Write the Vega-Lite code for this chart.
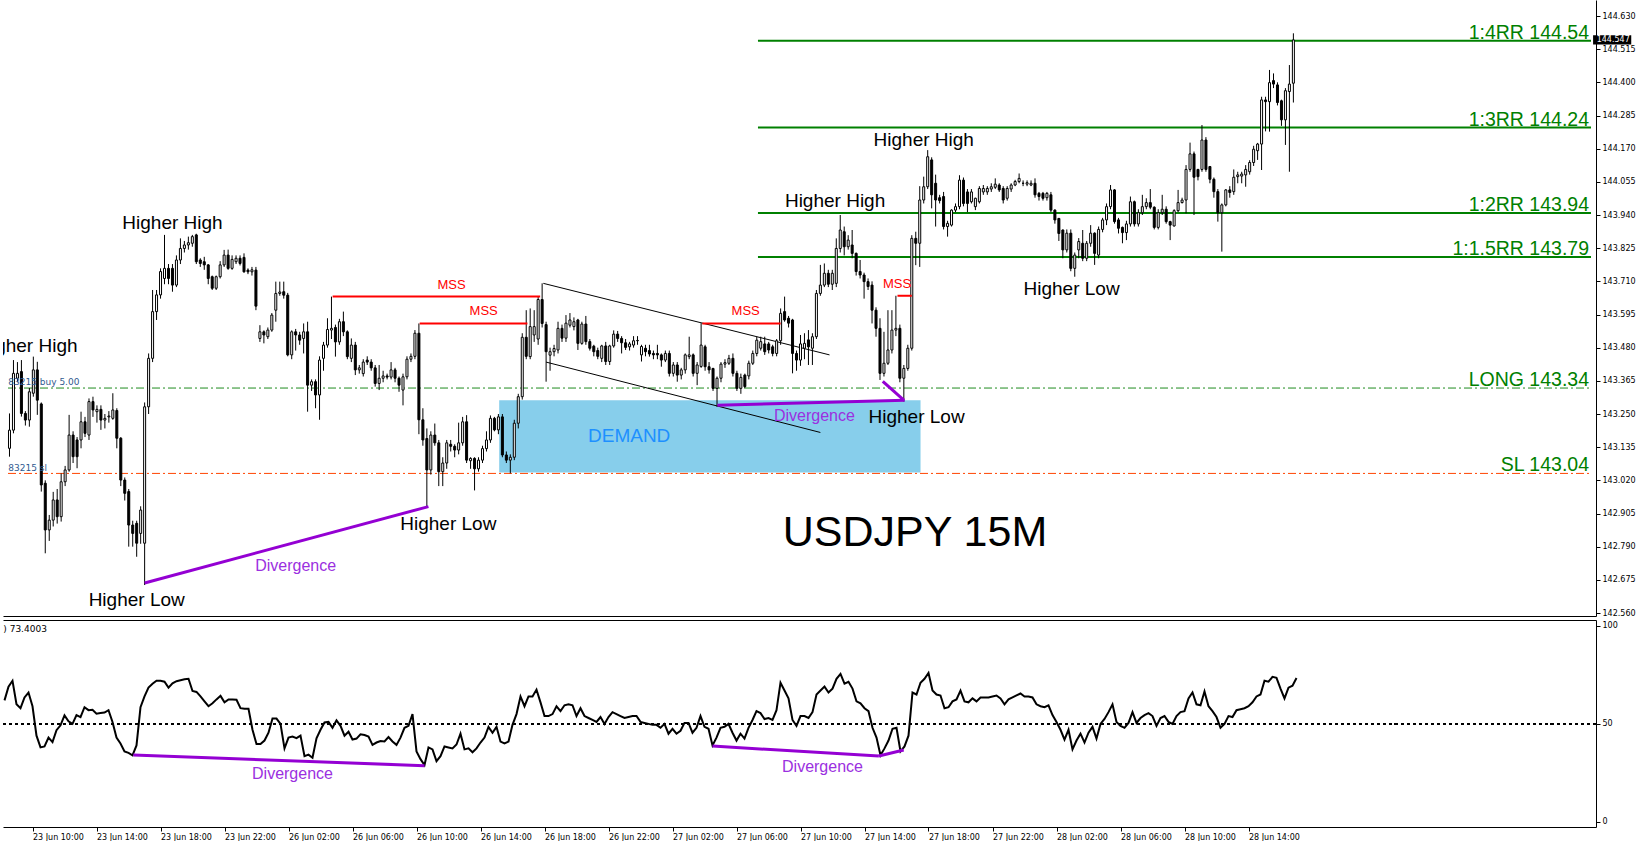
{
"$schema": "https://vega.github.io/schema/vega-lite/v6.json",
"padding": 0,
"background": "white",
"spacing": 2,
"config": {"view": {"stroke": null}, "axis": {"labelFont": "DejaVu Sans", "labelFontSize": 8, "labelColor": "black", "domainColor": "black", "tickColor": "black", "grid": false, "title": null}},
"datasets": {
"bars": [
{"i":-7,"o":143.131,"h":143.252,"l":143.102,"c":143.194,"r":62},
{"i":-6,"o":143.194,"h":143.437,"l":143.183,"c":143.391,"r":69},
{"i":-5,"o":143.374,"h":143.43,"l":143.36,"c":143.391,"r":72},
{"i":-4,"o":143.397,"h":143.437,"l":143.241,"c":143.252,"r":60},
{"i":-3,"o":143.252,"h":143.26,"l":143.21,"c":143.229,"r":58},
{"i":-2,"o":143.229,"h":143.34,"l":143.206,"c":143.327,"r":63.5},
{"i":-1,"o":143.322,"h":143.449,"l":143.31,"c":143.403,"r":66},
{"i":0,"o":143.403,"h":143.431,"l":143.247,"c":143.298,"r":59},
{"i":1,"o":143.285,"h":143.29,"l":142.981,"c":143.004,"r":44},
{"i":2,"o":143.01,"h":143.02,"l":142.767,"c":142.848,"r":38},
{"i":3,"o":142.848,"h":142.9,"l":142.81,"c":142.882,"r":38.5},
{"i":4,"o":142.882,"h":142.98,"l":142.86,"c":142.952,"r":43},
{"i":5,"o":142.952,"h":142.99,"l":142.87,"c":142.894,"r":40.7},
{"i":6,"o":142.894,"h":143.044,"l":142.877,"c":143.015,"r":46.8},
{"i":7,"o":143.015,"h":143.07,"l":143.0,"c":143.056,"r":49.3},
{"i":8,"o":143.056,"h":143.247,"l":143.05,"c":143.177,"r":54.3},
{"i":9,"o":143.177,"h":143.19,"l":143.08,"c":143.102,"r":51.3},
{"i":10,"o":143.16,"h":143.17,"l":143.062,"c":143.102,"r":50},
{"i":11,"o":143.16,"h":143.258,"l":143.131,"c":143.223,"r":54.5},
{"i":12,"o":143.223,"h":143.24,"l":143.17,"c":143.183,"r":53.5},
{"i":13,"o":143.177,"h":143.304,"l":143.16,"c":143.293,"r":58.5},
{"i":14,"o":143.293,"h":143.31,"l":143.24,"c":143.264,"r":57},
{"i":15,"o":143.258,"h":143.28,"l":143.22,"c":143.266,"r":57.2},
{"i":16,"o":143.266,"h":143.28,"l":143.195,"c":143.229,"r":55.2},
{"i":17,"o":143.229,"h":143.25,"l":143.2,"c":143.235,"r":55.5},
{"i":18,"o":143.24,"h":143.26,"l":143.22,"c":143.243,"r":55.8},
{"i":19,"o":143.235,"h":143.322,"l":143.23,"c":143.264,"r":57},
{"i":20,"o":143.262,"h":143.27,"l":143.131,"c":143.166,"r":51},
{"i":21,"o":143.166,"h":143.17,"l":143.0,"c":143.021,"r":43},
{"i":22,"o":143.021,"h":143.03,"l":142.95,"c":142.975,"r":40},
{"i":23,"o":142.981,"h":142.99,"l":142.79,"c":142.865,"r":36},
{"i":24,"o":142.865,"h":142.88,"l":142.79,"c":142.836,"r":35.2},
{"i":25,"o":142.871,"h":142.88,"l":142.755,"c":142.802,"r":34},
{"i":26,"o":142.836,"h":142.93,"l":142.8,"c":142.917,"r":39},
{"i":27,"o":142.802,"h":143.29,"l":142.657,"c":143.275,"r":58.5},
{"i":28,"o":143.275,"h":143.46,"l":143.25,"c":143.443,"r":64},
{"i":29,"o":143.443,"h":143.68,"l":143.43,"c":143.605,"r":68.5},
{"i":30,"o":143.605,"h":143.68,"l":143.576,"c":143.663,"r":70.5},
{"i":31,"o":143.663,"h":143.755,"l":143.65,"c":143.744,"r":72},
{"i":32,"o":143.72,"h":143.871,"l":143.7,"c":143.755,"r":72},
{"i":33,"o":143.755,"h":143.77,"l":143.7,"c":143.72,"r":71.5},
{"i":34,"o":143.755,"h":143.77,"l":143.674,"c":143.697,"r":68.5},
{"i":35,"o":143.697,"h":143.8,"l":143.69,"c":143.784,"r":70.7},
{"i":36,"o":143.784,"h":143.859,"l":143.77,"c":143.824,"r":71.8},
{"i":37,"o":143.824,"h":143.85,"l":143.81,"c":143.836,"r":72.3},
{"i":38,"o":143.836,"h":143.865,"l":143.82,"c":143.844,"r":72.8},
{"i":39,"o":143.842,"h":143.871,"l":143.83,"c":143.865,"r":73},
{"i":40,"o":143.871,"h":143.875,"l":143.77,"c":143.778,"r":66.8},
{"i":41,"o":143.784,"h":143.79,"l":143.76,"c":143.772,"r":66.3},
{"i":42,"o":143.778,"h":143.795,"l":143.75,"c":143.767,"r":64},
{"i":43,"o":143.767,"h":143.77,"l":143.7,"c":143.72,"r":61.5},
{"i":44,"o":143.726,"h":143.73,"l":143.68,"c":143.686,"r":59},
{"i":45,"o":143.686,"h":143.73,"l":143.68,"c":143.726,"r":60.5},
{"i":46,"o":143.726,"h":143.78,"l":143.72,"c":143.767,"r":62.5},
{"i":47,"o":143.767,"h":143.819,"l":143.76,"c":143.801,"r":64.3},
{"i":48,"o":143.801,"h":143.82,"l":143.75,"c":143.755,"r":61},
{"i":49,"o":143.755,"h":143.8,"l":143.75,"c":143.786,"r":62.5},
{"i":50,"o":143.778,"h":143.8,"l":143.77,"c":143.79,"r":62.5},
{"i":51,"o":143.79,"h":143.8,"l":143.765,"c":143.772,"r":62.3},
{"i":52,"o":143.793,"h":143.807,"l":143.74,"c":143.743,"r":58},
{"i":53,"o":143.749,"h":143.755,"l":143.735,"c":143.743,"r":57.7},
{"i":54,"o":143.743,"h":143.76,"l":143.73,"c":143.75,"r":57.7},
{"i":55,"o":143.749,"h":143.76,"l":143.61,"c":143.624,"r":47},
{"i":56,"o":143.512,"h":143.558,"l":143.5,"c":143.535,"r":39.7},
{"i":57,"o":143.535,"h":143.54,"l":143.495,"c":143.524,"r":39.7},
{"i":58,"o":143.518,"h":143.55,"l":143.51,"c":143.541,"r":41.5},
{"i":59,"o":143.541,"h":143.6,"l":143.535,"c":143.593,"r":45.5},
{"i":60,"o":143.61,"h":143.709,"l":143.57,"c":143.668,"r":52.7},
{"i":61,"o":143.668,"h":143.709,"l":143.66,"c":143.673,"r":52.7},
{"i":62,"o":143.674,"h":143.709,"l":143.65,"c":143.662,"r":50},
{"i":63,"o":143.662,"h":143.67,"l":143.45,"c":143.455,"r":37.5},
{"i":64,"o":143.455,"h":143.54,"l":143.44,"c":143.535,"r":43},
{"i":65,"o":143.535,"h":143.545,"l":143.47,"c":143.524,"r":43.5},
{"i":66,"o":143.524,"h":143.535,"l":143.49,"c":143.506,"r":42.7},
{"i":67,"o":143.512,"h":143.564,"l":143.46,"c":143.535,"r":44},
{"i":68,"o":143.535,"h":143.57,"l":143.258,"c":143.35,"r":33.5},
{"i":69,"o":143.35,"h":143.37,"l":143.33,"c":143.362,"r":34.3},
{"i":70,"o":143.362,"h":143.37,"l":143.27,"c":143.316,"r":32.7},
{"i":71,"o":143.316,"h":143.45,"l":143.23,"c":143.437,"r":42.7},
{"i":72,"o":143.443,"h":143.5,"l":143.4,"c":143.489,"r":47},
{"i":73,"o":143.489,"h":143.582,"l":143.48,"c":143.543,"r":50.7},
{"i":74,"o":143.541,"h":143.657,"l":143.51,"c":143.547,"r":51},
{"i":75,"o":143.55,"h":143.56,"l":143.449,"c":143.5,"r":48},
{"i":76,"o":143.5,"h":143.58,"l":143.49,"c":143.57,"r":51.8},
{"i":77,"o":143.57,"h":143.605,"l":143.52,"c":143.535,"r":49},
{"i":78,"o":143.535,"h":143.54,"l":143.44,"c":143.449,"r":44},
{"i":79,"o":143.443,"h":143.512,"l":143.43,"c":143.489,"r":46},
{"i":80,"o":143.489,"h":143.5,"l":143.385,"c":143.403,"r":42},
{"i":81,"o":143.403,"h":143.42,"l":143.39,"c":143.41,"r":42.5},
{"i":82,"o":143.39,"h":143.44,"l":143.38,"c":143.43,"r":44.7},
{"i":83,"o":143.437,"h":143.45,"l":143.42,"c":143.43,"r":44.3},
{"i":84,"o":143.43,"h":143.44,"l":143.4,"c":143.41,"r":43.5},
{"i":85,"o":143.41,"h":143.42,"l":143.345,"c":143.356,"r":39.3},
{"i":86,"o":143.356,"h":143.42,"l":143.333,"c":143.374,"r":40.5},
{"i":87,"o":143.374,"h":143.4,"l":143.36,"c":143.382,"r":41.3},
{"i":88,"o":143.382,"h":143.39,"l":143.37,"c":143.378,"r":41},
{"i":89,"o":143.378,"h":143.43,"l":143.37,"c":143.403,"r":43.3},
{"i":90,"o":143.403,"h":143.41,"l":143.36,"c":143.374,"r":41},
{"i":91,"o":143.374,"h":143.38,"l":143.327,"c":143.35,"r":39.3},
{"i":92,"o":143.333,"h":143.39,"l":143.28,"c":143.379,"r":43},
{"i":93,"o":143.379,"h":143.45,"l":143.37,"c":143.44,"r":48},
{"i":94,"o":143.44,"h":143.46,"l":143.43,"c":143.45,"r":49},
{"i":95,"o":143.45,"h":143.541,"l":143.44,"c":143.53,"r":55},
{"i":96,"o":143.53,"h":143.564,"l":143.18,"c":143.23,"r":36},
{"i":97,"o":143.23,"h":143.27,"l":143.14,"c":143.16,"r":32},
{"i":98,"o":143.165,"h":143.2,"l":142.93,"c":143.056,"r":29},
{"i":99,"o":143.056,"h":143.19,"l":143.04,"c":143.177,"r":38},
{"i":100,"o":143.177,"h":143.217,"l":143.14,"c":143.15,"r":37},
{"i":101,"o":143.15,"h":143.16,"l":143.0,"c":143.05,"r":31},
{"i":102,"o":143.05,"h":143.1,"l":143.0,"c":143.08,"r":33.5},
{"i":103,"o":143.08,"h":143.16,"l":143.06,"c":143.15,"r":38.5},
{"i":104,"o":143.145,"h":143.16,"l":143.12,"c":143.138,"r":38},
{"i":105,"o":143.138,"h":143.145,"l":143.1,"c":143.125,"r":37.5},
{"i":106,"o":143.125,"h":143.22,"l":143.11,"c":143.15,"r":39.5},
{"i":107,"o":143.15,"h":143.24,"l":143.14,"c":143.223,"r":45},
{"i":108,"o":143.223,"h":143.246,"l":143.08,"c":143.09,"r":37},
{"i":109,"o":143.088,"h":143.1,"l":143.06,"c":143.096,"r":37.5},
{"i":110,"o":143.096,"h":143.1,"l":142.985,"c":143.06,"r":35.5},
{"i":111,"o":143.06,"h":143.1,"l":143.05,"c":143.09,"r":37.5},
{"i":112,"o":143.09,"h":143.14,"l":143.08,"c":143.13,"r":40.5},
{"i":113,"o":143.13,"h":143.19,"l":143.12,"c":143.16,"r":43},
{"i":114,"o":143.16,"h":143.245,"l":143.15,"c":143.235,"r":48.5},
{"i":115,"o":143.235,"h":143.24,"l":143.19,"c":143.195,"r":45.5},
{"i":116,"o":143.195,"h":143.25,"l":143.18,"c":143.24,"r":48.5},
{"i":117,"o":143.24,"h":143.25,"l":143.1,"c":143.108,"r":41},
{"i":118,"o":143.108,"h":143.12,"l":143.08,"c":143.09,"r":40},
{"i":119,"o":143.09,"h":143.11,"l":143.044,"c":143.1,"r":41},
{"i":120,"o":143.1,"h":143.23,"l":143.09,"c":143.218,"r":49.5},
{"i":121,"o":143.218,"h":143.32,"l":143.2,"c":143.31,"r":55},
{"i":122,"o":143.31,"h":143.53,"l":143.3,"c":143.516,"r":64},
{"i":123,"o":143.516,"h":143.61,"l":143.44,"c":143.45,"r":59},
{"i":124,"o":143.449,"h":143.616,"l":143.44,"c":143.553,"r":64},
{"i":125,"o":143.524,"h":143.61,"l":143.5,"c":143.553,"r":64},
{"i":126,"o":143.51,"h":143.657,"l":143.49,"c":143.647,"r":67.5},
{"i":127,"o":143.647,"h":143.703,"l":143.55,"c":143.564,"r":61},
{"i":128,"o":143.56,"h":143.57,"l":143.362,"c":143.466,"r":54},
{"i":129,"o":143.454,"h":143.48,"l":143.4,"c":143.466,"r":54},
{"i":130,"o":143.466,"h":143.49,"l":143.45,"c":143.477,"r":55},
{"i":131,"o":143.472,"h":143.57,"l":143.46,"c":143.547,"r":59},
{"i":132,"o":143.547,"h":143.56,"l":143.5,"c":143.513,"r":56.5},
{"i":133,"o":143.513,"h":143.593,"l":143.5,"c":143.565,"r":59.5},
{"i":134,"o":143.558,"h":143.6,"l":143.55,"c":143.576,"r":60},
{"i":135,"o":143.553,"h":143.585,"l":143.54,"c":143.57,"r":59.5},
{"i":136,"o":143.576,"h":143.58,"l":143.472,"c":143.495,"r":54},
{"i":137,"o":143.495,"h":143.57,"l":143.49,"c":143.562,"r":58},
{"i":138,"o":143.562,"h":143.59,"l":143.49,"c":143.501,"r":54},
{"i":139,"o":143.501,"h":143.51,"l":143.47,"c":143.478,"r":53},
{"i":140,"o":143.485,"h":143.49,"l":143.45,"c":143.466,"r":52},
{"i":141,"o":143.47,"h":143.48,"l":143.44,"c":143.45,"r":51},
{"i":142,"o":143.443,"h":143.49,"l":143.43,"c":143.486,"r":53.5},
{"i":143,"o":143.486,"h":143.5,"l":143.42,"c":143.432,"r":50},
{"i":144,"o":143.432,"h":143.49,"l":143.42,"c":143.486,"r":53.5},
{"i":145,"o":143.486,"h":143.54,"l":143.48,"c":143.527,"r":56},
{"i":146,"o":143.527,"h":143.538,"l":143.5,"c":143.512,"r":55},
{"i":147,"o":143.512,"h":143.52,"l":143.46,"c":143.497,"r":54},
{"i":148,"o":143.497,"h":143.51,"l":143.472,"c":143.481,"r":53},
{"i":149,"o":143.483,"h":143.5,"l":143.47,"c":143.493,"r":53.5},
{"i":150,"o":143.489,"h":143.52,"l":143.48,"c":143.504,"r":54},
{"i":151,"o":143.504,"h":143.52,"l":143.49,"c":143.505,"r":54},
{"i":152,"o":143.455,"h":143.49,"l":143.432,"c":143.484,"r":51},
{"i":153,"o":143.478,"h":143.49,"l":143.45,"c":143.466,"r":50.5},
{"i":154,"o":143.47,"h":143.49,"l":143.449,"c":143.458,"r":50},
{"i":155,"o":143.46,"h":143.47,"l":143.44,"c":143.455,"r":49.5},
{"i":156,"o":143.46,"h":143.49,"l":143.44,"c":143.455,"r":49.5},
{"i":157,"o":143.455,"h":143.46,"l":143.414,"c":143.437,"r":48},
{"i":158,"o":143.437,"h":143.47,"l":143.43,"c":143.46,"r":50},
{"i":159,"o":143.46,"h":143.47,"l":143.38,"c":143.391,"r":45},
{"i":160,"o":143.391,"h":143.43,"l":143.38,"c":143.42,"r":47.5},
{"i":161,"o":143.42,"h":143.43,"l":143.362,"c":143.385,"r":45},
{"i":162,"o":143.385,"h":143.41,"l":143.37,"c":143.403,"r":46.5},
{"i":163,"o":143.403,"h":143.46,"l":143.39,"c":143.455,"r":50.5},
{"i":164,"o":143.449,"h":143.518,"l":143.44,"c":143.455,"r":50.5},
{"i":165,"o":143.455,"h":143.46,"l":143.38,"c":143.391,"r":45.5},
{"i":166,"o":143.391,"h":143.43,"l":143.35,"c":143.42,"r":48},
{"i":167,"o":143.415,"h":143.565,"l":143.41,"c":143.489,"r":54},
{"i":168,"o":143.483,"h":143.49,"l":143.4,"c":143.414,"r":48.5},
{"i":169,"o":143.414,"h":143.43,"l":143.39,"c":143.403,"r":47.5},
{"i":170,"o":143.408,"h":143.41,"l":143.33,"c":143.339,"r":39},
{"i":171,"o":143.339,"h":143.38,"l":143.275,"c":143.374,"r":43},
{"i":172,"o":143.374,"h":143.43,"l":143.36,"c":143.423,"r":48},
{"i":173,"o":143.423,"h":143.44,"l":143.41,"c":143.428,"r":48.5},
{"i":174,"o":143.426,"h":143.455,"l":143.42,"c":143.443,"r":50},
{"i":175,"o":143.443,"h":143.46,"l":143.38,"c":143.391,"r":45.5},
{"i":176,"o":143.391,"h":143.4,"l":143.33,"c":143.339,"r":41.5},
{"i":177,"o":143.339,"h":143.39,"l":143.32,"c":143.377,"r":45},
{"i":178,"o":143.385,"h":143.39,"l":143.34,"c":143.345,"r":42.5},
{"i":179,"o":143.382,"h":143.435,"l":143.37,"c":143.426,"r":48},
{"i":180,"o":143.426,"h":143.47,"l":143.42,"c":143.46,"r":52},
{"i":181,"o":143.46,"h":143.518,"l":143.45,"c":143.506,"r":56.5},
{"i":182,"o":143.478,"h":143.518,"l":143.47,"c":143.501,"r":55.5},
{"i":183,"o":143.493,"h":143.518,"l":143.455,"c":143.466,"r":52.5},
{"i":184,"o":143.493,"h":143.5,"l":143.46,"c":143.472,"r":53},
{"i":185,"o":143.483,"h":143.49,"l":143.45,"c":143.46,"r":52},
{"i":186,"o":143.46,"h":143.51,"l":143.45,"c":143.504,"r":57},
{"i":187,"o":143.504,"h":143.616,"l":143.49,"c":143.599,"r":71},
{"i":188,"o":143.605,"h":143.657,"l":143.57,"c":143.576,"r":67},
{"i":189,"o":143.582,"h":143.59,"l":143.55,"c":143.565,"r":63},
{"i":190,"o":143.576,"h":143.58,"l":143.391,"c":143.46,"r":52},
{"i":191,"o":143.46,"h":143.47,"l":143.4,"c":143.437,"r":49},
{"i":192,"o":143.437,"h":143.524,"l":143.417,"c":143.493,"r":54},
{"i":193,"o":143.478,"h":143.53,"l":143.44,"c":143.495,"r":54},
{"i":194,"o":143.507,"h":143.541,"l":143.42,"c":143.483,"r":53},
{"i":195,"o":143.478,"h":143.53,"l":143.42,"c":143.518,"r":56},
{"i":196,"o":143.518,"h":143.68,"l":143.51,"c":143.668,"r":65},
{"i":197,"o":143.668,"h":143.767,"l":143.66,"c":143.697,"r":67},
{"i":198,"o":143.697,"h":143.772,"l":143.69,"c":143.738,"r":69},
{"i":199,"o":143.738,"h":143.75,"l":143.69,"c":143.7,"r":66},
{"i":200,"o":143.7,"h":143.75,"l":143.68,"c":143.738,"r":68},
{"i":201,"o":143.703,"h":143.859,"l":143.69,"c":143.824,"r":73},
{"i":202,"o":143.824,"h":143.94,"l":143.81,"c":143.888,"r":75.5},
{"i":203,"o":143.882,"h":143.9,"l":143.8,"c":143.83,"r":70.5},
{"i":204,"o":143.83,"h":143.87,"l":143.82,"c":143.853,"r":71.5},
{"i":205,"o":143.836,"h":143.888,"l":143.79,"c":143.807,"r":68},
{"i":206,"o":143.807,"h":143.81,"l":143.73,"c":143.744,"r":61.5},
{"i":207,"o":143.744,"h":143.784,"l":143.72,"c":143.732,"r":60.5},
{"i":208,"o":143.732,"h":143.74,"l":143.65,"c":143.709,"r":58},
{"i":209,"o":143.709,"h":143.72,"l":143.68,"c":143.692,"r":56.5},
{"i":210,"o":143.697,"h":143.71,"l":143.564,"c":143.61,"r":48},
{"i":211,"o":143.61,"h":143.62,"l":143.518,"c":143.547,"r":43},
{"i":212,"o":143.547,"h":143.582,"l":143.368,"c":143.391,"r":34},
{"i":213,"o":143.391,"h":143.535,"l":143.38,"c":143.426,"r":37.5},
{"i":214,"o":143.426,"h":143.61,"l":143.42,"c":143.472,"r":41.5},
{"i":215,"o":143.472,"h":143.61,"l":143.46,"c":143.541,"r":47.5},
{"i":216,"o":143.541,"h":143.66,"l":143.52,"c":143.547,"r":48},
{"i":217,"o":143.547,"h":143.56,"l":143.36,"c":143.374,"r":36},
{"i":218,"o":143.374,"h":143.42,"l":143.293,"c":143.408,"r":38.5},
{"i":219,"o":143.408,"h":143.49,"l":143.4,"c":143.478,"r":44},
{"i":220,"o":143.478,"h":143.87,"l":143.47,"c":143.859,"r":66},
{"i":221,"o":143.859,"h":143.882,"l":143.766,"c":143.842,"r":65},
{"i":222,"o":143.842,"h":144.04,"l":143.76,"c":143.992,"r":71},
{"i":223,"o":143.992,"h":144.073,"l":143.98,"c":144.038,"r":73},
{"i":224,"o":144.038,"h":144.165,"l":144.03,"c":144.142,"r":76},
{"i":225,"o":144.131,"h":144.14,"l":143.963,"c":144.01,"r":67},
{"i":226,"o":144.05,"h":144.08,"l":143.9,"c":143.992,"r":65},
{"i":227,"o":144.0,"h":144.01,"l":143.98,"c":143.99,"r":64.5},
{"i":228,"o":144.004,"h":144.02,"l":143.89,"c":143.9,"r":58},
{"i":229,"o":143.9,"h":143.92,"l":143.865,"c":143.911,"r":58.5},
{"i":230,"o":143.905,"h":143.96,"l":143.9,"c":143.957,"r":61.5},
{"i":231,"o":143.957,"h":143.98,"l":143.95,"c":143.969,"r":62.5},
{"i":232,"o":143.969,"h":144.078,"l":143.96,"c":144.061,"r":67},
{"i":233,"o":144.061,"h":144.07,"l":143.97,"c":143.98,"r":61.5},
{"i":234,"o":144.02,"h":144.03,"l":143.95,"c":143.98,"r":61},
{"i":235,"o":143.986,"h":144.03,"l":143.98,"c":144.02,"r":63},
{"i":236,"o":143.969,"h":144.0,"l":143.957,"c":143.998,"r":61.5},
{"i":237,"o":143.986,"h":144.04,"l":143.98,"c":144.032,"r":63.5},
{"i":238,"o":144.02,"h":144.044,"l":144.01,"c":144.032,"r":63.5},
{"i":239,"o":144.02,"h":144.04,"l":144.01,"c":144.032,"r":63.5},
{"i":240,"o":144.03,"h":144.05,"l":144.02,"c":144.038,"r":64},
{"i":241,"o":144.036,"h":144.067,"l":144.03,"c":144.047,"r":64.5},
{"i":242,"o":144.044,"h":144.05,"l":144.02,"c":144.027,"r":63},
{"i":243,"o":144.032,"h":144.04,"l":143.98,"c":143.992,"r":60},
{"i":244,"o":143.998,"h":144.04,"l":143.99,"c":144.032,"r":62.5},
{"i":245,"o":144.03,"h":144.05,"l":144.02,"c":144.044,"r":63.5},
{"i":246,"o":144.044,"h":144.062,"l":144.04,"c":144.056,"r":64.5},
{"i":247,"o":144.056,"h":144.084,"l":144.05,"c":144.067,"r":65.5},
{"i":248,"o":144.05,"h":144.06,"l":144.04,"c":144.05,"r":64},
{"i":249,"o":144.047,"h":144.06,"l":144.04,"c":144.052,"r":64},
{"i":250,"o":144.044,"h":144.06,"l":144.04,"c":144.05,"r":63.5},
{"i":251,"o":144.05,"h":144.067,"l":144.0,"c":144.01,"r":60},
{"i":252,"o":144.015,"h":144.02,"l":143.99,"c":144.004,"r":59},
{"i":253,"o":144.015,"h":144.02,"l":143.99,"c":143.998,"r":58.5},
{"i":254,"o":144.0,"h":144.02,"l":143.99,"c":144.015,"r":59.5},
{"i":255,"o":144.01,"h":144.02,"l":143.95,"c":143.957,"r":54.5},
{"i":256,"o":143.957,"h":143.96,"l":143.91,"c":143.923,"r":51},
{"i":257,"o":143.928,"h":143.93,"l":143.85,"c":143.876,"r":47},
{"i":258,"o":143.888,"h":143.89,"l":143.79,"c":143.819,"r":42},
{"i":259,"o":143.819,"h":143.89,"l":143.81,"c":143.877,"r":47},
{"i":260,"o":143.877,"h":143.89,"l":143.745,"c":143.755,"r":37},
{"i":261,"o":143.755,"h":143.81,"l":143.726,"c":143.801,"r":41.5},
{"i":262,"o":143.819,"h":143.86,"l":143.79,"c":143.848,"r":45},
{"i":263,"o":143.842,"h":143.888,"l":143.78,"c":143.79,"r":40.5},
{"i":264,"o":143.79,"h":143.85,"l":143.78,"c":143.842,"r":45.5},
{"i":265,"o":143.842,"h":143.905,"l":143.83,"c":143.877,"r":48.5},
{"i":266,"o":143.877,"h":143.88,"l":143.767,"c":143.807,"r":42.5},
{"i":267,"o":143.801,"h":143.9,"l":143.79,"c":143.89,"r":50},
{"i":268,"o":143.89,"h":143.93,"l":143.88,"c":143.923,"r":52.5},
{"i":269,"o":143.923,"h":143.98,"l":143.905,"c":143.969,"r":56},
{"i":270,"o":143.969,"h":144.044,"l":143.96,"c":144.027,"r":60},
{"i":271,"o":144.027,"h":144.03,"l":143.91,"c":143.917,"r":51},
{"i":272,"o":143.923,"h":143.93,"l":143.876,"c":143.894,"r":49},
{"i":273,"o":143.897,"h":143.9,"l":143.842,"c":143.879,"r":48},
{"i":274,"o":143.879,"h":143.92,"l":143.853,"c":143.909,"r":50.5},
{"i":275,"o":143.909,"h":144.004,"l":143.9,"c":143.986,"r":56},
{"i":276,"o":143.986,"h":143.99,"l":143.9,"c":143.909,"r":50.5},
{"i":277,"o":143.909,"h":143.96,"l":143.9,"c":143.948,"r":53},
{"i":278,"o":143.948,"h":144.01,"l":143.94,"c":143.969,"r":54.5},
{"i":279,"o":143.969,"h":143.998,"l":143.96,"c":143.983,"r":55.5},
{"i":280,"o":143.983,"h":144.03,"l":143.96,"c":143.967,"r":54},
{"i":281,"o":143.967,"h":143.97,"l":143.89,"c":143.897,"r":49},
{"i":282,"o":143.897,"h":143.96,"l":143.89,"c":143.948,"r":53},
{"i":283,"o":143.948,"h":144.01,"l":143.94,"c":143.96,"r":54},
{"i":284,"o":143.96,"h":143.97,"l":143.91,"c":143.917,"r":51},
{"i":285,"o":143.917,"h":143.92,"l":143.853,"c":143.905,"r":50},
{"i":286,"o":143.902,"h":143.96,"l":143.9,"c":143.955,"r":54},
{"i":287,"o":143.955,"h":144.027,"l":143.95,"c":143.983,"r":56},
{"i":288,"o":143.983,"h":144.0,"l":143.98,"c":143.992,"r":56.5},
{"i":289,"o":143.992,"h":144.113,"l":143.946,"c":144.098,"r":63},
{"i":290,"o":144.098,"h":144.191,"l":144.09,"c":144.152,"r":66},
{"i":291,"o":144.152,"h":144.16,"l":143.94,"c":144.071,"r":60},
{"i":292,"o":144.098,"h":144.1,"l":144.06,"c":144.073,"r":59.5},
{"i":293,"o":144.098,"h":144.252,"l":144.09,"c":144.2,"r":66.5},
{"i":294,"o":144.2,"h":144.21,"l":144.09,"c":144.098,"r":59},
{"i":295,"o":144.108,"h":144.11,"l":144.05,"c":144.064,"r":56.5},
{"i":296,"o":144.064,"h":144.07,"l":144.0,"c":144.021,"r":53.5},
{"i":297,"o":144.021,"h":144.03,"l":143.917,"c":143.948,"r":48},
{"i":298,"o":143.948,"h":143.98,"l":143.813,"c":143.975,"r":50},
{"i":299,"o":143.975,"h":144.03,"l":143.97,"c":144.027,"r":54},
{"i":300,"o":144.027,"h":144.04,"l":144.0,"c":144.018,"r":53.5},
{"i":301,"o":144.021,"h":144.098,"l":144.01,"c":144.071,"r":57},
{"i":302,"o":144.073,"h":144.09,"l":144.05,"c":144.079,"r":57.5},
{"i":303,"o":144.075,"h":144.09,"l":144.05,"c":144.082,"r":58},
{"i":304,"o":144.079,"h":144.113,"l":144.038,"c":144.098,"r":59},
{"i":305,"o":144.09,"h":144.13,"l":144.08,"c":144.122,"r":61},
{"i":306,"o":144.122,"h":144.18,"l":144.11,"c":144.168,"r":64},
{"i":307,"o":144.163,"h":144.19,"l":144.131,"c":144.186,"r":65},
{"i":308,"o":144.186,"h":144.35,"l":144.096,"c":144.339,"r":72},
{"i":309,"o":144.339,"h":144.35,"l":144.23,"c":144.333,"r":71.5},
{"i":310,"o":144.333,"h":144.443,"l":144.229,"c":144.399,"r":74},
{"i":311,"o":144.406,"h":144.431,"l":144.38,"c":144.394,"r":73.5},
{"i":312,"o":144.391,"h":144.4,"l":144.32,"c":144.33,"r":68},
{"i":313,"o":144.336,"h":144.34,"l":144.249,"c":144.27,"r":63},
{"i":314,"o":144.27,"h":144.38,"l":144.183,"c":144.371,"r":68.5},
{"i":315,"o":144.368,"h":144.46,"l":144.09,"c":144.394,"r":69.5},
{"i":316,"o":144.397,"h":144.57,"l":144.33,"c":144.547,"r":73.4}
],
"rr": [
{"t":"1:4RR 144.54","a":181.3,"b":390.875,"p":144.544},
{"t":"1:3RR 144.24","a":181.3,"b":390.875,"p":144.243},
{"t":"1:2RR 143.94","a":181.3,"b":390.875,"p":143.947},
{"t":"1:1.5RR 143.79","a":181.3,"b":390.875,"p":143.794}
],
"entry": [
{"t":"LONG 143.34","k":"long","a":-7.375,"b":390.875,"p":143.34},
{"t":"SL 143.04","k":"sl","a":-7.375,"b":390.875,"p":143.044}
],
"orders": [
{"t":"83215 buy 5.00","i":-7.3,"p":143.362},
{"t":"83215 sl","i":-7.3,"p":143.063}
],
"box": [{"a":116.2,"b":222.2,"lo":143.047,"hi":143.298}],
"demand": [{"t":"DEMAND","i":148.9,"p":143.172}],
"mss": [
{"t":"MSS","a":74.3,"b":126.5,"p":143.657,"li":104.2,"lp":143.697},
{"t":"MSS","a":96.2,"b":123.3,"p":143.564,"li":112.3,"lp":143.606},
{"t":"MSS","a":167.3,"b":187,"p":143.564,"li":178.2,"lp":143.606},
{"t":"MSS","a":216.4,"b":220,"p":143.66,"li":216.3,"lp":143.7}
],
"chan": [
{"a":127.3,"pa":143.703,"b":199.3,"pb":143.455},
{"a":128,"pa":143.43,"b":197,"pb":143.186}
],
"pdiv": [
{"a":27,"pa":142.664,"b":98.4,"pb":142.929},
{"a":171.1,"pa":143.28,"b":218.2,"pb":143.298},
{"a":212.7,"pa":143.363,"b":218,"pb":143.298}
],
"pdivlab": [
{"t":"Divergence","i":65,"p":142.722},
{"t":"Divergence","i":195.5,"p":143.244}
],
"swing": [
{"t":"Higher High","i":34,"p":143.914},
{"t":"Higher High","i":-2.5,"p":143.486},
{"t":"Higher Low","i":25,"p":142.606},
{"t":"Higher Low","i":103.4,"p":142.867},
{"t":"Higher High","i":200.7,"p":143.987},
{"t":"Higher High","i":223,"p":144.2},
{"t":"Higher Low","i":221.2,"p":143.24},
{"t":"Higher Low","i":260.2,"p":143.682}
],
"title": [{"t":"USDJPY 15M","i":220.8,"p":142.838}],
"last": [{"t":"144.547","a":391.4,"b":401,"i":392.3,"p":144.547,"lo":144.531,"hi":144.563}],
"rdiv": [
{"a":25.2,"pa":34.1,"b":98,"pb":28.7},
{"a":170,"pa":38.7,"b":211.6,"pb":33.6},
{"a":211.6,"pa":33.6,"b":217.8,"pb":36.7}
],
"rdivlab": [
{"t":"Divergence","i":65,"v":24.4},
{"t":"Divergence","i":197.5,"v":28.2}
],
"rsilab": [{"t":") 73.4003","i":-7.3,"v":98.4}]
},
"vconcat": [
{
"width": 1593, "height": 616,
"resolve": {"axis": {"x": "independent", "y": "independent"}},
"layer": [
{"data":{"name":"box"},"mark":{"type":"rect","color":"#87CEEB"},
 "encoding":{"x":{"field":"a","type":"quantitative","scale":{"domain":[-7.375,390.875],"nice":false,"zero":false},"axis":{"orient":"bottom","labels":false,"ticks":false,"domain":true}},"x2":{"field":"b"},
 "y":{"field":"lo","type":"quantitative","scale":{"domain":[142.5496,144.6855],"nice":false,"zero":false},"axis":{"orient":"right","values":[142.56,142.675,142.79,142.905,143.02,143.135,143.25,143.365,143.48,143.595,143.71,143.825,143.94,144.055,144.17,144.285,144.4,144.515,144.63],"format":".3f","tickSize":4,"labelPadding":2,"labelOverlap":false}},"y2":{"field":"hi"}}},
{"data":{"name":"entry"},"mark":{"type":"rule","strokeWidth":1,"strokeDash":[8,3,2,3]},
 "encoding":{"x":{"field":"a","type":"quantitative","axis":null},"x2":{"field":"b"},"y":{"field":"p","type":"quantitative","axis":null},
 "color":{"field":"k","type":"nominal","scale":{"domain":["long","sl"],"range":["#1E8C1E","#FF4500"]},"legend":null}}},
{"data":{"name":"rr"},"mark":{"type":"rule","strokeWidth":2,"color":"#008000"},
 "encoding":{"x":{"field":"a","type":"quantitative","axis":null},"x2":{"field":"b"},"y":{"field":"p","type":"quantitative","axis":null}}},
{"data":{"name":"chan"},"mark":{"type":"rule","strokeWidth":1,"color":"black"},
 "encoding":{"x":{"field":"a","type":"quantitative","axis":null},"x2":{"field":"b"},"y":{"field":"pa","type":"quantitative","axis":null},"y2":{"field":"pb"}}},
{"data":{"name":"bars"},"mark":{"type":"rule","strokeWidth":1,"color":"black"},
 "encoding":{"x":{"field":"i","type":"quantitative","axis":null},"y":{"field":"l","type":"quantitative","axis":null},"y2":{"field":"h"}}},
{"data":{"name":"bars"},"mark":{"type":"bar","width":2,"stroke":"black","strokeWidth":1},
 "encoding":{"x":{"field":"i","type":"quantitative","axis":null},"y":{"field":"o","type":"quantitative","axis":null},"y2":{"field":"c"},
 "fill":{"condition":{"test":"datum.c >= datum.o","value":"white"},"value":"black"}}},
{"data":{"name":"mss"},"mark":{"type":"rule","strokeWidth":2,"color":"#FF0000"},
 "encoding":{"x":{"field":"a","type":"quantitative","axis":null},"x2":{"field":"b"},"y":{"field":"p","type":"quantitative","axis":null}}},
{"data":{"name":"mss"},"mark":{"type":"text","font":"Liberation Sans","fontSize":13,"color":"#FF0000","align":"center","baseline":"middle"},
 "encoding":{"x":{"field":"li","type":"quantitative","axis":null},"y":{"field":"lp","type":"quantitative","axis":null},"text":{"field":"t"}}},
{"data":{"name":"pdiv"},"mark":{"type":"rule","strokeWidth":3,"color":"#9400D3"},
 "encoding":{"x":{"field":"a","type":"quantitative","axis":null},"x2":{"field":"b"},"y":{"field":"pa","type":"quantitative","axis":null},"y2":{"field":"pb"}}},
{"data":{"name":"pdivlab"},"mark":{"type":"text","font":"Liberation Sans","fontSize":16,"color":"#9B30E0","align":"center","baseline":"middle"},
 "encoding":{"x":{"field":"i","type":"quantitative","axis":null},"y":{"field":"p","type":"quantitative","axis":null},"text":{"field":"t"}}},
{"data":{"name":"demand"},"mark":{"type":"text","font":"Liberation Sans","fontSize":19,"color":"#1E90FF","align":"center","baseline":"middle"},
 "encoding":{"x":{"field":"i","type":"quantitative","axis":null},"y":{"field":"p","type":"quantitative","axis":null},"text":{"field":"t"}}},
{"data":{"name":"swing"},"mark":{"type":"text","font":"Liberation Sans","fontSize":19,"color":"black","align":"center","baseline":"middle","clip":true},
 "encoding":{"x":{"field":"i","type":"quantitative","axis":null},"y":{"field":"p","type":"quantitative","axis":null},"text":{"field":"t"}}},
{"data":{"name":"title"},"mark":{"type":"text","font":"Liberation Sans","fontSize":43,"color":"black","align":"center","baseline":"middle"},
 "encoding":{"x":{"field":"i","type":"quantitative","axis":null},"y":{"field":"p","type":"quantitative","axis":null},"text":{"field":"t"}}},
{"data":{"name":"rr"},"mark":{"type":"text","font":"Liberation Sans","fontSize":19.5,"color":"#008000","align":"right","baseline":"alphabetic","dx":-2,"dy":-2},
 "encoding":{"x":{"field":"b","type":"quantitative","axis":null},"y":{"field":"p","type":"quantitative","axis":null},"text":{"field":"t"}}},
{"data":{"name":"entry"},"mark":{"type":"text","font":"Liberation Sans","fontSize":19.5,"color":"#008000","align":"right","baseline":"alphabetic","dx":-2,"dy":-2},
 "encoding":{"x":{"field":"b","type":"quantitative","axis":null},"y":{"field":"p","type":"quantitative","axis":null},"text":{"field":"t"}}},
{"data":{"name":"orders"},"mark":{"type":"text","font":"DejaVu Sans","fontSize":9,"color":"#2F5A8F","align":"left","baseline":"middle"},
 "encoding":{"x":{"field":"i","type":"quantitative","axis":null},"y":{"field":"p","type":"quantitative","axis":null},"text":{"field":"t"}}},
{"data":{"name":"last"},"mark":{"type":"rect","color":"black","clip":false},
 "encoding":{"x":{"field":"a","type":"quantitative","axis":null},"x2":{"field":"b"},"y":{"field":"lo","type":"quantitative","axis":null},"y2":{"field":"hi"}}},
{"data":{"name":"last"},"mark":{"type":"text","font":"DejaVu Sans","fontSize":8,"color":"white","align":"left","baseline":"middle","clip":false},
 "encoding":{"x":{"field":"i","type":"quantitative","axis":null},"y":{"field":"p","type":"quantitative","axis":null},"text":{"field":"t"}}}
]
},
{
"width": 1593, "height": 207,
"resolve": {"axis": {"x": "independent", "y": "independent"}},
"layer": [
{"data":{"name":"bars"},"mark":{"type":"line","color":"black","strokeWidth":2},
 "encoding":{"x":{"field":"i","type":"quantitative","scale":{"domain":[-7.375,390.875],"nice":false,"zero":false},
   "axis":{"orient":"bottom","values":[0,16,32,48,64,80,96,112,128,144,160,176,192,208,224,240,256,272,288,304],
   "labelExpr":"['23 Jun 10:00','23 Jun 14:00','23 Jun 18:00','23 Jun 22:00','26 Jun 02:00','26 Jun 06:00','26 Jun 10:00','26 Jun 14:00','26 Jun 18:00','26 Jun 22:00','27 Jun 02:00','27 Jun 06:00','27 Jun 10:00','27 Jun 14:00','27 Jun 18:00','27 Jun 22:00','28 Jun 02:00','28 Jun 06:00','28 Jun 10:00','28 Jun 14:00'][round(datum.value/16)]",
   "labelAlign":"left","labelBaseline":"top","labelPadding":2,"tickSize":4,"labelOverlap":false,"labelFlush":false}},
  "y":{"field":"r","type":"quantitative","scale":{"domain":[-2.6,103],"nice":false,"zero":false},
   "axis":{"orient":"right","values":[0,50,100],"tickSize":4,"labelPadding":2,"labelOverlap":false}}}},
{"data":{"name":"rsilab"},"mark":{"type":"text","font":"DejaVu Sans","fontSize":9,"color":"black","align":"left","baseline":"middle"},
 "encoding":{"x":{"field":"i","type":"quantitative","axis":{"orient":"top","labels":false,"ticks":false,"domain":true}},"y":{"field":"v","type":"quantitative","axis":null},"text":{"field":"t"}}},
{"data":{"name":"bars"},"mark":{"type":"rule","color":"black","strokeWidth":1,"strokeDash":[3,3]},
 "encoding":{"y":{"datum":50,"type":"quantitative","axis":null}}},
{"data":{"name":"rdiv"},"mark":{"type":"rule","strokeWidth":3,"color":"#9400D3"},
 "encoding":{"x":{"field":"a","type":"quantitative","axis":null},"x2":{"field":"b"},"y":{"field":"pa","type":"quantitative","axis":null},"y2":{"field":"pb"}}},
{"data":{"name":"rdivlab"},"mark":{"type":"text","font":"Liberation Sans","fontSize":16,"color":"#9B30E0","align":"center","baseline":"middle"},
 "encoding":{"x":{"field":"i","type":"quantitative","axis":null},"y":{"field":"v","type":"quantitative","axis":null},"text":{"field":"t"}}}
]
}
]
}
